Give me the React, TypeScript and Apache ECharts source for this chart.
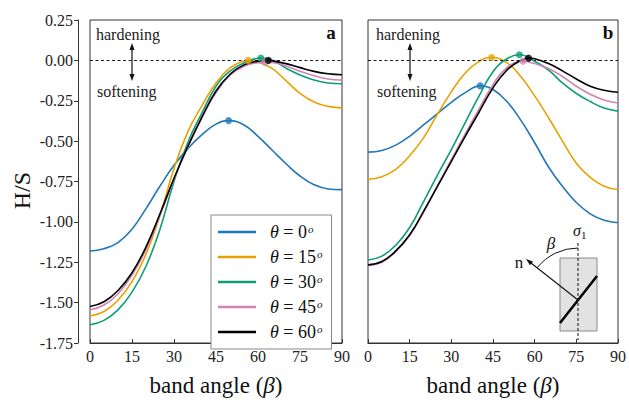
import React, { useEffect, useRef } from 'react';
import * as echarts from 'echarts';

const betas = [0, 5, 10, 15, 20, 25, 30, 35, 40, 45, 50, 55, 60, 65, 70, 75, 80, 85, 90];
const thetaLabels = ['0', '15', '30', '45', '60'];
const colors = ['#1f78b8', '#e8a200', '#0f9d74', '#d083b8', '#000000'];

// panel a
const leftTheta0 = [-1.18, -1.166, -1.128, -1.045, -0.918, -0.778, -0.65, -0.545, -0.46, -0.395, -0.374, -0.4, -0.47, -0.555, -0.64, -0.716, -0.77, -0.796, -0.8];
const leftTheta15 = [-1.583, -1.555, -1.485, -1.37, -1.2, -0.96, -0.67, -0.44, -0.28, -0.14, -0.047, -0.004, -0.01, -0.05, -0.125, -0.205, -0.258, -0.285, -0.294];
const leftTheta30 = [-1.637, -1.61, -1.545, -1.435, -1.275, -1.045, -0.75, -0.505, -0.325, -0.16, -0.066, -0.016, 0.012, 0.002, -0.048, -0.09, -0.122, -0.14, -0.145];
const leftTheta45 = [-1.544, -1.515, -1.445, -1.33, -1.17, -0.96, -0.735, -0.535, -0.355, -0.2, -0.092, -0.036, -0.014, -0.013, -0.035, -0.068, -0.095, -0.115, -0.122];
const leftTheta60 = [-1.524, -1.495, -1.425, -1.315, -1.155, -0.95, -0.73, -0.53, -0.35, -0.19, -0.086, -0.028, -0.005, -0.002, -0.02, -0.045, -0.068, -0.083, -0.089];
const leftPeakBeta = [49.5, 56.5, 61, 62.5, 63.7];
const leftPeakValue = [-0.373, 0.0, 0.014, -0.011, 0.0];

// panel b
const rightTheta0 = [-0.568, -0.558, -0.525, -0.47, -0.4, -0.33, -0.26, -0.2, -0.159, -0.18, -0.255, -0.37, -0.51, -0.66, -0.78, -0.88, -0.95, -0.99, -1.005];
const rightTheta15 = [-0.736, -0.72, -0.675, -0.59, -0.48, -0.333, -0.195, -0.078, -0.006, 0.017, -0.015, -0.1, -0.22, -0.355, -0.5, -0.637, -0.725, -0.78, -0.8];
const rightTheta30 = [-1.236, -1.212, -1.145, -1.035, -0.875, -0.71, -0.552, -0.385, -0.22, -0.07, 0.01, 0.035, -0.005, -0.06, -0.14, -0.205, -0.255, -0.295, -0.314];
const rightTheta45 = [-1.272, -1.25, -1.185, -1.085, -0.94, -0.777, -0.615, -0.455, -0.3, -0.15, -0.045, -0.006, -0.02, -0.05, -0.1, -0.16, -0.21, -0.245, -0.264];
const rightTheta60 = [-1.266, -1.245, -1.18, -1.08, -0.935, -0.78, -0.625, -0.47, -0.32, -0.17, -0.06, 0.0, 0.01, -0.02, -0.065, -0.115, -0.16, -0.185, -0.197];
const rightPeakBeta = [40.4, 44.5, 54.5, 55.8, 57.8];
const rightPeakValue = [-0.158, 0.018, 0.035, -0.005, 0.014];

const leftSets = [leftTheta0, leftTheta15, leftTheta30, leftTheta45, leftTheta60];
const rightSets = [rightTheta0, rightTheta15, rightTheta30, rightTheta45, rightTheta60];

const FONT = 'Liberation Serif, DejaVu Serif, serif';

function buildData(values: number[], pb: number, pv: number) {
  const pts: number[][] = betas.map((b, i) => [b, values[i]]).filter((p) => Math.abs(p[0] - pb) > 1.2);
  pts.push([pb, pv]);
  pts.sort((a, b) => a[0] - b[0]);
  return pts;
}

function seriesName(i: number) {
  return 'θ = ' + thetaLabels[i] + '°';
}

export default function App() {
  const ref = useRef<HTMLDivElement>(null);
  useEffect(() => {
    if (!ref.current) return;
    const chart = echarts.init(ref.current, undefined, { renderer: 'svg' });

    const series: any[] = [];
    [0, 1].forEach((panel) => {
      const sets = panel === 0 ? leftSets : rightSets;
      const pb = panel === 0 ? leftPeakBeta : rightPeakBeta;
      const pv = panel === 0 ? leftPeakValue : rightPeakValue;
      sets.forEach((vals, i) => {
        const s: any = {
          type: 'line',
          name: seriesName(i),
          xAxisIndex: panel,
          yAxisIndex: panel,
          data: buildData(vals, pb[i], pv[i]),
          smooth: 0.45,
          symbol: 'none',
          lineStyle: { color: colors[i], width: 1.6 },
          itemStyle: { color: colors[i] },
          z: 3 + i,
        };
        if (i === 0) {
          s.markLine = {
            silent: true,
            symbol: 'none',
            label: { show: false },
            lineStyle: { color: '#000', width: 0.9, type: [3, 2.5] },
            data: [{ yAxis: 0 }],
          };
        }
        series.push(s);
      });
      sets.forEach((_, i) => {
        series.push({
          type: 'scatter',
          name: 'peak' + panel + i,
          xAxisIndex: panel,
          yAxisIndex: panel,
          data: [[pb[i], pv[i]]],
          symbolSize: 7,
          itemStyle: { color: colors[i] },
          z: 10 + i,
        });
      });
    });

    const xAxisCommon = (gridIndex: number) => ({
      type: 'value',
      gridIndex,
      min: 0,
      max: 90,
      interval: 15,
      name: 'band angle ({i|β})',
      nameLocation: 'middle',
      nameGap: 31,
      nameTextStyle: {
        fontFamily: FONT,
        fontSize: 23,
        color: '#111',
        rich: { i: { fontFamily: FONT, fontSize: 23, fontStyle: 'italic', color: '#111' } },
      },
      axisLine: { show: true, onZero: false, lineStyle: { color: '#333', width: 1 } },
      axisTick: { show: true, inside: true, length: 4, lineStyle: { color: '#333' } },
      axisLabel: { fontFamily: FONT, fontSize: 16, color: '#222', margin: 5 },
      splitLine: { show: false },
    });

    const option: any = {
      animation: false,
      backgroundColor: '#ffffff',
      grid: [
        { left: 90, top: 20, width: 252, height: 337, show: true, borderColor: '#333', borderWidth: 1, backgroundColor: 'transparent' },
        { left: 368, top: 20, width: 251, height: 337, show: true, borderColor: '#333', borderWidth: 1, backgroundColor: 'transparent' },
      ],
      xAxis: [xAxisCommon(0), xAxisCommon(1)],
      yAxis: [
        {
          type: 'value',
          gridIndex: 0,
          min: -1.75,
          max: 0.25,
          interval: 0.25,
          offset: 12,
          axisLine: { show: true, onZero: false, lineStyle: { color: '#333', width: 1 } },
          axisTick: { show: true, length: 4, lineStyle: { color: '#333' } },
          axisLabel: {
            fontFamily: FONT,
            fontSize: 16,
            color: '#222',
            margin: 5,
            formatter: (v: number) => (Math.abs(v) < 1e-9 ? '0.00' : v.toFixed(2)),
          },
          splitLine: { show: false },
        },
        {
          type: 'value',
          gridIndex: 1,
          min: -1.75,
          max: 0.25,
          interval: 0.25,
          axisLine: { show: false, onZero: false },
          axisTick: { show: false },
          axisLabel: { show: false },
          splitLine: { show: false },
        },
      ],
      legend: {
        data: [0, 1, 2, 3, 4].map(seriesName),
        orient: 'vertical',
        left: 211,
        top: 215,
        padding: [8, 9, 8, 7],
        itemGap: 7,
        itemWidth: 38,
        itemHeight: 2.5,
        icon: 'rect',
        borderColor: '#888',
        borderWidth: 1,
        backgroundColor: '#fff',
        selectedMode: false,
        formatter: (name: string) => {
          const m = name.match(/\d+/);
          return '{it|θ}{n| = ' + (m ? m[0] : '') + '}{sup|o}';
        },
        textStyle: {
          fontFamily: FONT,
          fontSize: 18,
          color: '#111',
          lineHeight: 18,
          rich: {
            it: { fontFamily: FONT, fontSize: 18, lineHeight: 18, fontStyle: 'italic', color: '#111', padding: [0, 0, 0, 9] },
            n: { fontFamily: FONT, fontSize: 18, lineHeight: 18, color: '#111' },
            sup: { fontFamily: FONT, fontSize: 11, lineHeight: 18, fontStyle: 'italic', color: '#111', verticalAlign: 'top', padding: [0, 0, 6, 1] },
          },
        },
      },
      graphic: [
        { type: 'text', left: 10, top: 172, rotation: Math.PI / 2, style: { text: 'H/S', fontFamily: FONT, fontSize: 24, fill: '#111' } },
        // panel a annotations
        { type: 'text', x: 96, y: 34, style: { text: 'hardening', fontFamily: FONT, fontSize: 16, fill: '#222', textVerticalAlign: 'middle' } },
        { type: 'text', x: 97, y: 91, style: { text: 'softening', fontFamily: FONT, fontSize: 16, fill: '#222', textVerticalAlign: 'middle' } },
        { type: 'line', shape: { x1: 132, y1: 47, x2: 132, y2: 77 }, style: { stroke: '#111', lineWidth: 1.2 } },
        { type: 'polygon', shape: { points: [[132, 43], [129.5, 50], [134.5, 50]] }, style: { fill: '#111' } },
        { type: 'polygon', shape: { points: [[132, 81], [129.5, 74], [134.5, 74]] }, style: { fill: '#111' } },
        { type: 'text', x: 331, y: 32, style: { text: 'a', fontFamily: FONT, fontSize: 19, fontWeight: 'bold', fill: '#111', textAlign: 'center', textVerticalAlign: 'middle' } },
        // panel b annotations
        { type: 'text', x: 376, y: 34, style: { text: 'hardening', fontFamily: FONT, fontSize: 16, fill: '#222', textVerticalAlign: 'middle' } },
        { type: 'text', x: 377, y: 91, style: { text: 'softening', fontFamily: FONT, fontSize: 16, fill: '#222', textVerticalAlign: 'middle' } },
        { type: 'line', shape: { x1: 410, y1: 47, x2: 410, y2: 77 }, style: { stroke: '#111', lineWidth: 1.2 } },
        { type: 'polygon', shape: { points: [[410, 43], [407.5, 50], [412.5, 50]] }, style: { fill: '#111' } },
        { type: 'polygon', shape: { points: [[410, 81], [407.5, 74], [412.5, 74]] }, style: { fill: '#111' } },
        { type: 'text', x: 608, y: 32, style: { text: 'b', fontFamily: FONT, fontSize: 19, fontWeight: 'bold', fill: '#111', textAlign: 'center', textVerticalAlign: 'middle' } },
        // inset
        { type: 'rect', shape: { x: 560, y: 258, width: 37, height: 73 }, style: { fill: '#e2e2e2', stroke: '#8a8a8a', lineWidth: 1 }, z: 20 },
        { type: 'line', shape: { x1: 578, y1: 243, x2: 578, y2: 340 }, style: { stroke: '#111', lineWidth: 1, lineDash: [3, 2] }, z: 21 },
        { type: 'line', shape: { x1: 560, y1: 323, x2: 597, y2: 276 }, style: { stroke: '#000', lineWidth: 2.5 }, z: 21 },
        { type: 'line', shape: { x1: 578, y1: 300, x2: 531, y2: 263 }, style: { stroke: '#111', lineWidth: 1.1 }, z: 21 },
        { type: 'polygon', shape: { points: [[526, 259], [533, 261.4], [530, 265.3]] }, style: { fill: '#111' }, z: 21 },
        { type: 'arc', shape: { cx: 578, cy: 300, r: 52, startAngle: -2.471, endAngle: -Math.PI / 2, clockwise: true }, style: { stroke: '#111', lineWidth: 1, fill: 'none' }, z: 21 },
        { type: 'text', x: 519, y: 262, style: { text: 'n', fontFamily: FONT, fontSize: 17, fill: '#111', textAlign: 'center', textVerticalAlign: 'middle' }, z: 21 },
        { type: 'text', x: 551, y: 243, style: { text: 'β', fontFamily: FONT, fontSize: 17, fontStyle: 'italic', fill: '#111', textAlign: 'center', textVerticalAlign: 'middle' }, z: 21 },
        {
          type: 'text', x: 573, y: 221, z: 21,
          style: {
            text: '{s|σ}{d|1}', fontFamily: FONT, fontSize: 16, fill: '#111',
            rich: { s: { fontFamily: FONT, fontSize: 16, fontStyle: 'italic', fill: '#111' }, d: { fontFamily: FONT, fontSize: 11, fill: '#111', padding: [8, 0, 0, 0] } },
          },
        },
      ],
      series,
    };

    chart.setOption(option);
    return () => chart.dispose();
  }, []);

  return <div ref={ref} style={{ position: 'fixed', left: 0, top: 0, width: 629, height: 402 }} />;
}
